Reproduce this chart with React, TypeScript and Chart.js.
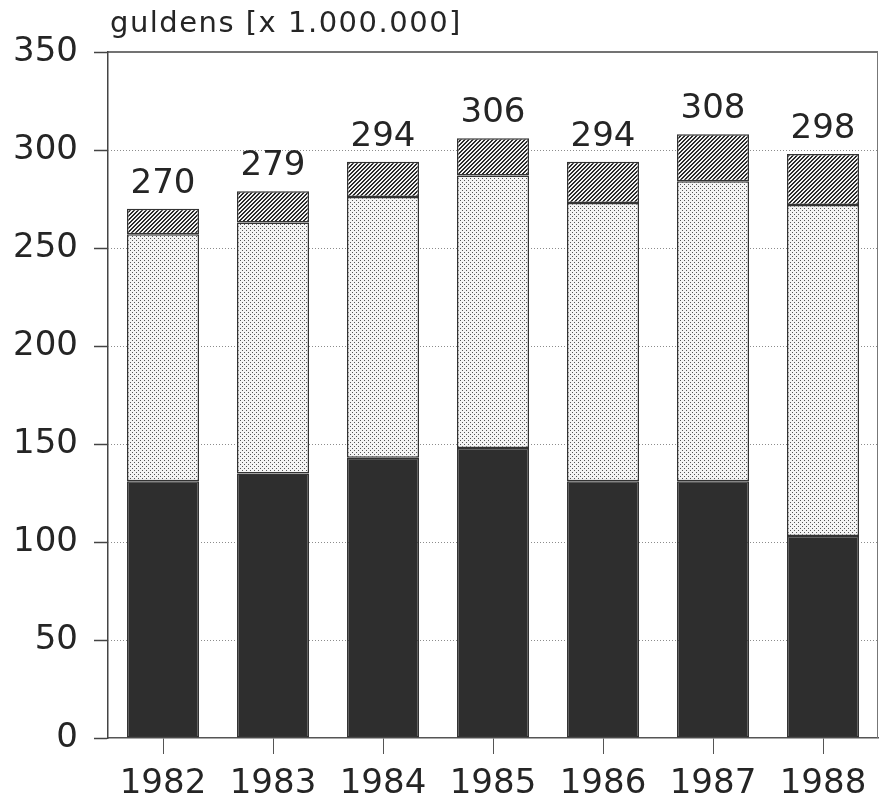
import React, { useEffect, useRef } from 'react';
import { Chart, registerables } from 'chart.js';

Chart.register(...registerables);

const years = ['1982', '1983', '1984', '1985', '1986', '1987', '1988'];
const darkValues = [131, 135, 143, 148, 131, 131, 103];
const dottedValues = [126, 128, 133, 139, 142, 153, 169];
const hatchedValues = [13, 16, 18, 19, 21, 24, 26];
const yTickValues = [0, 50, 100, 150, 200, 250, 300, 350];
const titleText = 'guldens [x 1.000.000]';

const FONT = "'DejaVu Sans', 'Liberation Sans', sans-serif";
const TEXT = '#252525';

function makeDotPattern(ctx: CanvasRenderingContext2D): CanvasPattern | string {
  const c = document.createElement('canvas');
  c.width = 4;
  c.height = 4;
  const g = c.getContext('2d');
  if (!g) return '#e0e0e0';
  g.fillStyle = '#f4f4f4';
  g.fillRect(0, 0, 4, 4);
  g.fillStyle = '#555';
  g.fillRect(0, 0, 1, 1);
  g.fillRect(2, 2, 1, 1);
  return ctx.createPattern(c, 'repeat') || '#e0e0e0';
}

function makeHatchPattern(ctx: CanvasRenderingContext2D): CanvasPattern | string {
  const n = 4;
  const c = document.createElement('canvas');
  c.width = n;
  c.height = n;
  const g = c.getContext('2d');
  if (!g) return '#888';
  g.fillStyle = '#f2f2f2';
  g.fillRect(0, 0, n, n);
  g.fillStyle = '#2a2a2a';
  for (let x = 0; x < n; x++) {
    const y1 = (n - 1 - x + n) % n;
    const y2 = (n - x) % n;
    g.fillRect(x, y1, 1, 1);
    g.fillRect(x, y2, 1, 1);
  }
  return ctx.createPattern(c, 'repeat') || '#888';
}

const framePlugin = {
  id: 'framePlugin',
  beforeDatasetsDraw(chart: any) {
    const { ctx, chartArea, scales } = chart;
    const y = scales.y;
    ctx.save();
    ctx.strokeStyle = '#8c8c8c';
    ctx.lineWidth = 1;
    ctx.setLineDash([1, 2]);
    yTickValues.forEach((v) => {
      if (v === 0 || v === 350) return;
      const py = Math.round(y.getPixelForValue(v)) + 0.5;
      ctx.beginPath();
      ctx.moveTo(chartArea.left, py);
      ctx.lineTo(chartArea.right, py);
      ctx.stroke();
    });
    ctx.setLineDash([]);
    ctx.strokeStyle = '#444';
    ctx.lineWidth = 1.5;
    const top = y.getPixelForValue(350);
    ctx.beginPath();
    ctx.moveTo(chartArea.left, top);
    ctx.lineTo(chartArea.right, top);
    ctx.stroke();
    ctx.strokeStyle = '#777';
    ctx.lineWidth = 1;
    ctx.beginPath();
    ctx.moveTo(chartArea.right - 0.5, top);
    ctx.lineTo(chartArea.right - 0.5, chartArea.bottom);
    ctx.stroke();
    ctx.restore();
  },
  afterDraw(chart: any) {
    const { ctx, scales } = chart;
    const x = scales.x;
    const y = scales.y;
    ctx.save();
    ctx.fillStyle = TEXT;
    ctx.font = `34px ${FONT}`;
    ctx.textAlign = 'center';
    ctx.textBaseline = 'alphabetic';
    years.forEach((_, i) => {
      const total = darkValues[i] + dottedValues[i] + hatchedValues[i];
      const px = x.getPixelForValue(i);
      const py = y.getPixelForValue(total);
      ctx.fillText(String(total), px, py - 16);
    });
    ctx.font = `29px ${FONT}`;
    ctx.textAlign = 'left';
    (ctx as any).letterSpacing = '1.5px';
    ctx.fillText(titleText, 110, 32);
    (ctx as any).letterSpacing = '0px';
    ctx.restore();
  },
};

export default function App() {
  const canvasRef = useRef<HTMLCanvasElement | null>(null);

  useEffect(() => {
    document.body.style.margin = '0';
    const canvas = canvasRef.current;
    if (!canvas) return;
    const ctx = canvas.getContext('2d');
    if (!ctx) return;
    const dotPattern = makeDotPattern(ctx);
    const hatchPattern = makeHatchPattern(ctx);

    const common = {
      borderColor: '#333',
      borderWidth: 1.5,
      borderSkipped: false as const,
      barPercentage: 0.655,
      categoryPercentage: 1,
    };

    const chart = new Chart(ctx, {
      type: 'bar',
      data: {
        labels: years,
        datasets: [
          { label: 'a', data: darkValues, backgroundColor: '#2e2e2e', ...common },
          { label: 'b', data: dottedValues, backgroundColor: dotPattern as any, ...common },
          { label: 'c', data: hatchedValues, backgroundColor: hatchPattern as any, ...common },
        ],
      },
      options: {
        responsive: false,
        animation: false,
        devicePixelRatio: 1,
        layout: { padding: { top: 52, right: 3, left: 0, bottom: 0 } },
        plugins: {
          legend: { display: false },
          tooltip: { enabled: false },
          title: { display: false },
        },
        scales: {
          x: {
            stacked: true,
            offset: true,
            grid: {
              offset: false,
              drawOnChartArea: false,
              drawTicks: true,
              tickLength: 16,
              tickColor: '#555',
              tickWidth: 1,
            },
            border: { display: true, color: '#555', width: 1.5 },
            ticks: {
              color: TEXT,
              font: { family: FONT, size: 34 },
              padding: 10,
              maxRotation: 0,
              autoSkip: false,
            },
            afterFit(scale: any) {
              scale.height = 68;
            },
          },
          y: {
            stacked: true,
            min: 0,
            max: 350,
            grid: {
              drawOnChartArea: false,
              drawTicks: true,
              tickLength: 14,
              tickColor: '#444',
              tickWidth: 1.5,
            },
            border: { display: true, color: '#444', width: 1.5 },
            ticks: {
              stepSize: 50,
              color: TEXT,
              font: { family: FONT, size: 34 },
              padding: 16,
            },
            afterFit(scale: any) {
              scale.width = 108;
            },
          },
        },
      },
      plugins: [framePlugin],
    });

    return () => {
      chart.destroy();
    };
  }, []);

  return (
    <div style={{ width: 881, height: 806, background: '#fff' }}>
      <canvas ref={canvasRef} width={881} height={806} style={{ display: 'block' }} />
    </div>
  );
}
